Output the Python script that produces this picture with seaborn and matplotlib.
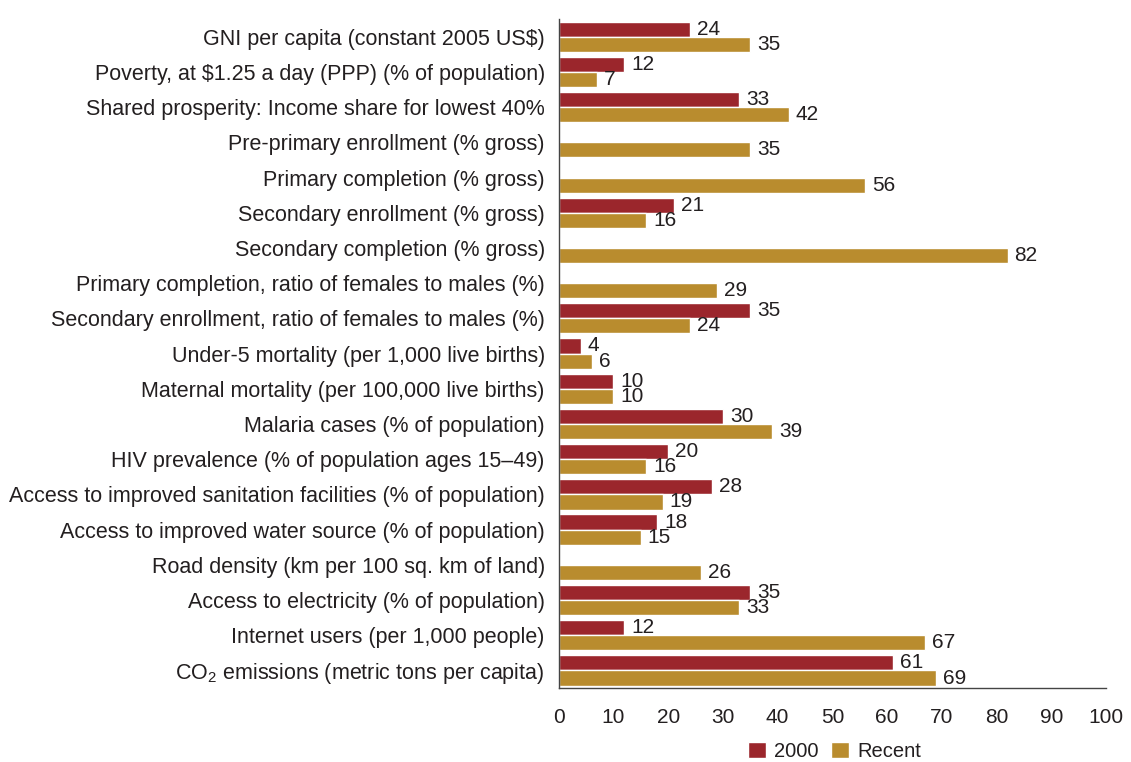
import matplotlib
matplotlib.use("Agg")
import matplotlib.pyplot as plt
import seaborn as sns
import pandas as pd
import numpy as np
from matplotlib.ticker import FixedLocator
from matplotlib.patches import Patch

indicators = [
    "GNI per capita (constant 2005 US$)",
    "Poverty, at \\$1.25 a day (PPP) (% of population)",
    "Shared prosperity: Income share for lowest 40%",
    "Pre-primary enrollment (% gross)",
    "Primary completion (% gross)",
    "Secondary enrollment (% gross)",
    "Secondary completion (% gross)",
    "Primary completion, ratio of females to males (%)",
    "Secondary enrollment, ratio of females to males (%)",
    "Under-5 mortality (per 1,000 live births)",
    "Maternal mortality (per 100,000 live births)",
    "Malaria cases (% of population)",
    "HIV prevalence (% of population ages 15\u201349)",
    "Access to improved sanitation facilities (% of population)",
    "Access to improved water source (% of population)",
    "Road density (km per 100 sq. km of land)",
    "Access to electricity (% of population)",
    "Internet users (per 1,000 people)",
    "CO$_2$ emissions (metric tons per capita)",
]
vals_2000 = [24, 12, 33, np.nan, np.nan, 21, np.nan, np.nan, 35, 4, 10, 30, 20, 28, 18, np.nan, 35, 12, 61]
vals_recent = [35, 7, 42, 35, 56, 16, 82, 29, 24, 6, 10, 39, 16, 19, 15, 26, 33, 67, 69]
series = ["2000", "Recent"]
colors = ["#9B262C", "#B98C2E"]

df = pd.DataFrame({
    "indicator": indicators * 2,
    "series": [series[0]] * len(indicators) + [series[1]] * len(indicators),
    "value": vals_2000 + vals_recent,
})

sns.set_style("white")
plt.rcParams["font.family"] = ["Liberation Sans", "DejaVu Sans"]
plt.rcParams["mathtext.fontset"] = "custom"
plt.rcParams["mathtext.rm"] = "Liberation Sans"
plt.rcParams["mathtext.default"] = "regular"
text_col = "#231F20"

fig = plt.figure(figsize=(11.31, 7.62), dpi=100)
ax = fig.add_axes([0.494, 0.097, 0.484, 0.878])

sns.barplot(data=df, y="indicator", x="value", hue="series", order=indicators,
            hue_order=series, palette=colors, orient="h", width=0.86,
            saturation=1, ax=ax, legend=False)

for cont in ax.containers:
    ax.bar_label(cont, fmt="%.0f", padding=5, fontsize=15, color=text_col)

ax.set_xlim(0, 100)
ax.set_ylim(len(indicators) - 0.5, -0.5)
ax.set_xticks(range(0, 101, 10))
ax.tick_params(axis="x", labelsize=15, colors="#444444", length=6, width=1,
               direction="out", pad=8)
ax.tick_params(axis="x", labelcolor=text_col)
ax.tick_params(axis="y", which="major", length=0, labelsize=15.5, labelcolor=text_col, pad=10)
ax.yaxis.set_minor_locator(FixedLocator(np.arange(-0.5, len(indicators), 1)))
ax.tick_params(axis="y", which="minor", length=6, width=1, color="#444444", direction="out")
ax.set_xlabel("")
ax.set_ylabel("")
for s in ["top", "right"]:
    ax.spines[s].set_visible(False)
for s in ["left", "bottom"]:
    ax.spines[s].set_color("#444444")
    ax.spines[s].set_linewidth(1)

handles = [Patch(facecolor=c, label=l) for c, l in zip(colors, series)]
fig.legend(handles=handles, loc="center", bbox_to_anchor=(0.738, 0.014), ncol=2,
           frameon=False, fontsize=14.5, handlelength=0.9, handleheight=0.9,
           handletextpad=0.4, columnspacing=0.6, labelcolor=text_col)

fig.savefig("out.png", dpi=100)
